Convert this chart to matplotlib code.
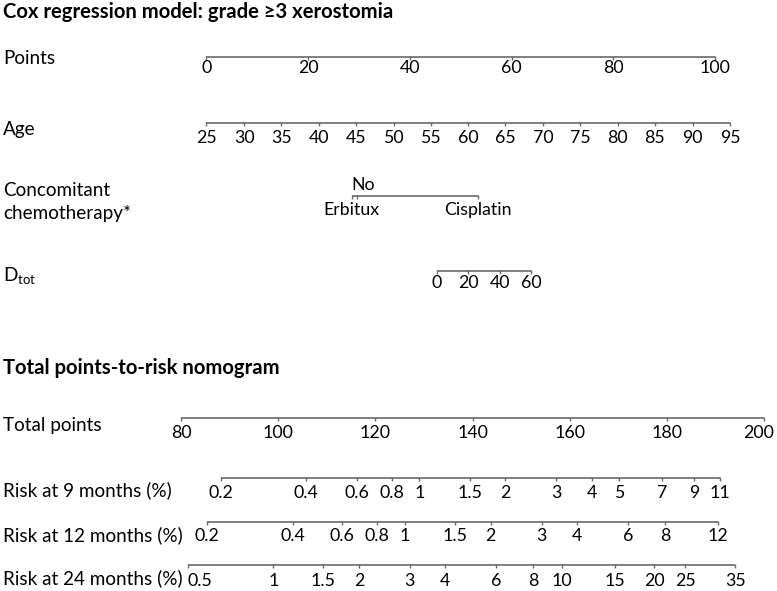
#nomogram for grade >=3 xerostomia and the points-to-risk conversion
import matplotlib.pyplot as plt
import matplotlib.transforms as mtransforms

plt.rcParams['font.family'] = ['Lato', 'DejaVu Sans']
plt.rcParams['mathtext.fontset'] = 'custom'
plt.rcParams['mathtext.rm'] = 'Lato'

#top nomogram: tick values and their positions on the points scale
points_vals = [0, 20, 40, 60, 80, 100]
age_vals = [25, 30, 35, 40, 45, 50, 55, 60, 65, 70, 75, 80, 85, 90, 95]
age_pos = [0, 7.4, 14.7, 22.1, 29.4, 36.8, 44.1, 51.5, 58.8, 66.2, 73.5, 80.9, 88.2, 95.6, 103.0]
chemo_vals = ['Erbitux', 'No', 'Cisplatin']
chemo_pos = [28.6, 29.6, 53.4]
dtot_vals = [0, 20, 40, 60]
dtot_pos = [45.3, 51.5, 57.7, 63.9]

#bottom nomogram: tick values and positions on the total points scale
total_vals = [80, 100, 120, 140, 160, 180, 200]
risk9_vals = ['0.2', '0.4', '0.6', '0.8', '1', '1.5', '2', '3', '4', '5', '7', '9', '11']
risk9_pos = [88.2, 105.7, 116.2, 123.4, 129.0, 139.5, 146.7, 157.2, 164.5, 170.2, 179.0, 185.6, 190.9]
risk12_vals = ['0.2', '0.4', '0.6', '0.8', '1', '1.5', '2', '3', '4', '6', '8', '12']
risk12_pos = [85.3, 103.0, 113.1, 120.4, 126.1, 136.4, 143.7, 154.2, 161.5, 172.0, 179.6, 190.4]
risk24_vals = ['0.5', '1', '1.5', '2', '3', '4', '6', '8', '10', '15', '20', '25', '35']
risk24_pos = [81.4, 99.0, 109.3, 116.6, 127.0, 134.3, 144.8, 152.4, 158.3, 169.3, 177.3, 183.7, 194.0]

line_col = '#6a6a6a'
fs = 13.6
tick_fs = 12.8

fig = plt.figure(figsize=(7.77, 5.91), dpi=100)
#two transparent axes over the whole figure, y in pixels from the top
ax_top = fig.add_axes([0, 0, 1, 1])
ax_bot = fig.add_axes([0, 0, 1, 1])
ax_top.set_xlim(-40.6, 112.2)
ax_bot.set_xlim(42.76, 202.6)
for ax in (ax_top, ax_bot):
    ax.set_ylim(591, 0)
    ax.axis('off')
    ax.patch.set_alpha(0)


#draw one nomogram scale, dy is the distance from the line to the label baseline
def draw_scale(ax, pos, labels, y, dy=18, above=None, ha_first='center', shift_last=0):
    ax.plot([min(pos), max(pos)], [y, y], color=line_col, lw=1.2, solid_capstyle='butt')
    ax.vlines(pos, y - 1, y + 3, color=line_col, lw=1.0)
    for i, (p, lab) in enumerate(zip(pos, labels)):
        ha = ha_first if i == 0 else 'center'
        if i == len(pos) - 1:
            p = p + shift_last
        if above is not None and lab in above:
            ax.text(p + 1.3, y - 6, lab, ha='center', va='baseline', fontsize=tick_fs)
        else:
            ax.text(p, y + dy, lab, ha=ha, va='baseline', fontsize=tick_fs)


def row_label(ax, text, y):
    trans = mtransforms.blended_transform_factory(ax.transAxes, ax.transData)
    ax.text(3 / 777, y, text, transform=trans, ha='left', va='center', fontsize=fs)


#titles
fig.text(3 / 777, 1 - 12 / 591, 'Cox regression model: grade \u22653 xerostomia',
         fontsize=14.6, fontweight='bold', ha='left', va='center')
fig.text(3 / 777, 1 - 368 / 591, 'Total points-to-risk nomogram',
         fontsize=14.6, fontweight='bold', ha='left', va='center')

#top section
row_label(ax_top, 'Points', 59)
draw_scale(ax_top, points_vals, [str(v) for v in points_vals], 56.7, dy=16.5)
row_label(ax_top, 'Age', 130)
draw_scale(ax_top, age_pos, [str(v) for v in age_vals], 123.3, dy=19.5)
row_label(ax_top, 'Concomitant', 190)
row_label(ax_top, 'chemotherapy*', 214)
draw_scale(ax_top, chemo_pos, chemo_vals, 196, dy=19, above=['No'])
row_label(ax_top, r'D$_{\mathrm{tot}}$', 276)
draw_scale(ax_top, dtot_pos, [str(v) for v in dtot_vals], 270.7, dy=17.5)

#bottom section
row_label(ax_bot, 'Total points', 425)
draw_scale(ax_bot, total_vals, [str(v) for v in total_vals], 418, dy=20, shift_last=-1.2)
row_label(ax_bot, 'Risk at 9 months (%)', 490)
draw_scale(ax_bot, risk9_pos, risk9_vals, 477.7, dy=20.5)
row_label(ax_bot, 'Risk at 12 months (%)', 535)
draw_scale(ax_bot, risk12_pos, risk12_vals, 521.7, dy=19.5)
row_label(ax_bot, 'Risk at 24 months (%)', 578)
draw_scale(ax_bot, risk24_pos, risk24_vals, 565, dy=21, ha_first='left')

plt.savefig('out.png', dpi=100)
